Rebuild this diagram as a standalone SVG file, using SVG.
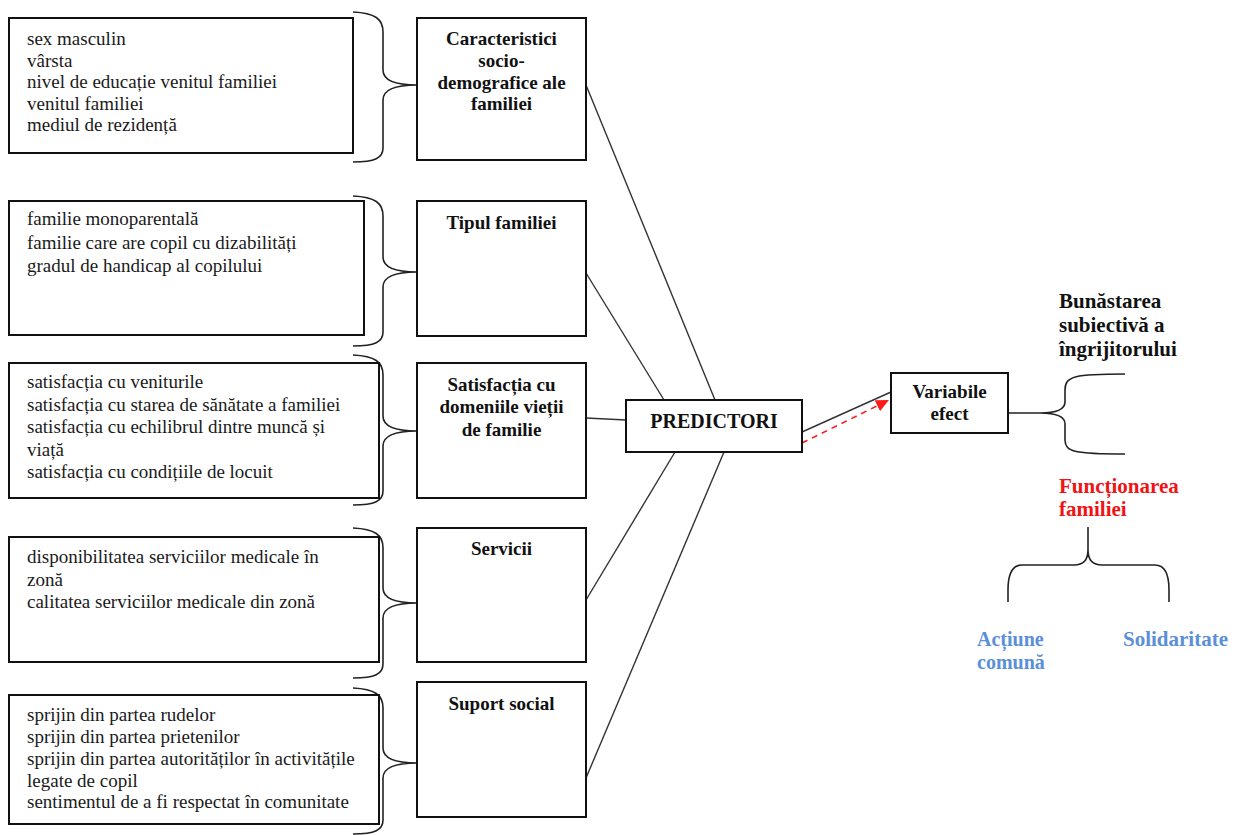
<svg xmlns="http://www.w3.org/2000/svg" width="1234" height="835" viewBox="0 0 1234 835">
<style>
.box{fill:#fff;stroke:#111;stroke-width:2}
.item{font-family:"Liberation Serif","Times New Roman",serif;font-size:19px;fill:#1a1a1a}
.title{font-family:"Liberation Serif","Times New Roman",serif;font-size:19px;font-weight:bold;fill:#111;text-anchor:middle}
.big{font-family:"Liberation Serif","Times New Roman",serif;font-size:21px;font-weight:bold}
.brace{fill:none;stroke:#222;stroke-width:1.6}
.conn{fill:none;stroke:#333;stroke-width:1.4}
</style>
<defs>
<marker id="arrRed" markerUnits="userSpaceOnUse" markerWidth="14" markerHeight="12" refX="13" refY="6" orient="auto">
<path d="M0,0 L13,6 L0,12 z" fill="#ff1a1a"/>
</marker>
</defs>
<rect width="1234" height="835" fill="#fff"/>

<g id="connectors">
<path class="conn" d="M586,85 L715,400"/>
<path class="conn" d="M586,273 L664,400"/>
<path class="conn" d="M586,418 L626,420"/>
<path class="conn" d="M586,600 L675,452"/>
<path class="conn" d="M586,778 L724,452"/>
<path class="conn" d="M802,432 L891,392"/>
<path d="M802,443 L889,400" fill="none" stroke="#ff1a1a" stroke-width="1.6" stroke-dasharray="6,5" marker-end="url(#arrRed)"/>
</g>

<g id="braces">
<path class="brace" d="M353,12 C375,13 383,19 383,32 L383,70 C383,80 393,85 417,85 C393,85 383,90 383,100 L383,148 C383,158 375,162 353,162"/>
<path class="brace" d="M353,196 C375,197 383,203 383,216 L383,257 C383,267 393,272 417,272 C393,272 383,277 383,287 L383,332 C383,342 375,346 353,346"/>
<path class="brace" d="M353,355 C375,356 383,362 383,375 L383,416 C383,426 393,431 417,431 C393,431 383,436 383,446 L383,491 C383,501 375,505 353,505"/>
<path class="brace" d="M353,528 C375,529 383,535 383,548 L383,588 C383,598 393,603 417,603 C393,603 383,608 383,618 L383,664 C383,674 375,678 353,678"/>
<path class="brace" d="M353,688 C375,689 383,695 383,708 L383,748 C383,758 393,763 417,763 C393,763 383,768 383,778 L383,820 C383,830 375,834 353,834"/>
<path class="brace" d="M1008,413 L1040,413 M1125,374 C1075,374 1065,376 1065,390 L1065,402 C1065,410 1055,413 1040,413 C1055,413 1065,416 1065,424 L1065,440 C1065,452 1075,454 1125,454"/>
<path class="brace" d="M1088,527 L1088,550 C1088,560 1084,565 1074,565 L1022,565 C1012,565 1008,575 1008,590 L1008,602 M1088,550 C1088,560 1092,565 1102,565 L1155,565 C1165,565 1169,575 1169,590 L1169,602"/>
</g>

<g id="list1">
<rect class="box" x="9" y="18" width="344" height="135"/>
<text class="item" x="27" y="45">sex masculin</text>
<text class="item" x="27" y="66.5">vârsta</text>
<text class="item" x="27" y="88">nivel de educație venitul familiei</text>
<text class="item" x="27" y="109.5">venitul familiei</text>
<text class="item" x="27" y="131">mediul de rezidență</text>
</g>
<g id="list2">
<rect class="box" x="9" y="201" width="355" height="134"/>
<text class="item" x="27" y="225">familie monoparentală</text>
<text class="item" x="27" y="248.5">familie care are copil cu dizabilități</text>
<text class="item" x="27" y="272">gradul de handicap al copilului</text>
</g>
<g id="list3">
<rect class="box" x="9" y="363" width="370" height="135"/>
<text class="item" x="27" y="388">satisfacția cu veniturile</text>
<text class="item" x="27" y="410.5">satisfacția cu starea de sănătate a familiei</text>
<text class="item" x="27" y="433">satisfacția cu echilibrul dintre muncă și</text>
<text class="item" x="27" y="455.5">viață</text>
<text class="item" x="27" y="478">satisfacția cu condițiile de locuit</text>
</g>
<g id="list4">
<rect class="box" x="9" y="537" width="370" height="125"/>
<text class="item" x="27" y="563">disponibilitatea serviciilor medicale în</text>
<text class="item" x="27" y="585.5">zonă</text>
<text class="item" x="27" y="608">calitatea serviciilor medicale din zonă</text>
</g>
<g id="list5">
<rect class="box" x="9" y="695" width="370" height="129"/>
<text class="item" x="27" y="721">sprijin din partea rudelor</text>
<text class="item" x="27" y="743">sprijin din partea prietenilor</text>
<text class="item" x="27" y="765">sprijin din partea autorităților în activitățile</text>
<text class="item" x="27" y="786.5">legate de copil</text>
<text class="item" x="27" y="808">sentimentul de a fi respectat în comunitate</text>
</g>

<g id="node-caracteristici">
<rect class="box" x="417" y="18" width="169" height="142"/>
<text class="title" x="501.5" y="45">Caracteristici</text>
<text class="title" x="501.5" y="67">socio-</text>
<text class="title" x="501.5" y="89">demografice ale</text>
<text class="title" x="501.5" y="110">familiei</text>
</g>
<g id="node-tipul">
<rect class="box" x="417" y="201" width="169" height="135"/>
<text class="title" x="501.5" y="229">Tipul familiei</text>
</g>
<g id="node-satisfactia">
<rect class="box" x="417" y="363" width="169" height="135"/>
<text class="title" x="501.5" y="391">Satisfacția cu</text>
<text class="title" x="501.5" y="413">domeniile vieții</text>
<text class="title" x="501.5" y="436">de familie</text>
</g>
<g id="node-servicii">
<rect class="box" x="417" y="528" width="169" height="134"/>
<text class="title" x="501.5" y="555">Servicii</text>
</g>
<g id="node-suport">
<rect class="box" x="417" y="682" width="169" height="135"/>
<text class="title" x="501.5" y="710">Suport social</text>
</g>
<g id="node-predictori">
<rect class="box" x="626" y="400" width="176" height="52"/>
<text class="title" x="714" y="428" style="font-size:20px">PREDICTORI</text>
</g>
<g id="node-variabile">
<rect class="box" x="891" y="373" width="117" height="60"/>
<text class="title" x="949.5" y="398">Variabile</text>
<text class="title" x="949.5" y="420">efect</text>
</g>
<g id="label-bunastarea">
<text class="big" x="1059" y="308" fill="#111">Bunăstarea</text>
<text class="big" x="1059" y="332" fill="#111">subiectivă a</text>
<text class="big" x="1059" y="356" fill="#111">îngrijitorului</text>
</g>
<g id="label-functionarea">
<text class="big" x="1059" y="493" fill="#f01414">Funcționarea</text>
<text class="big" x="1059" y="516" fill="#f01414">familiei</text>
</g>
<g id="label-actiune">
<text class="big" x="977" y="646" fill="#5b8fd8" style="font-size:20px">Acțiune</text>
<text class="big" x="977" y="669" fill="#5b8fd8" style="font-size:20px">comună</text>
</g>
<g id="label-solidaritate">
<text class="big" x="1123" y="646" fill="#5b8fd8">Solidaritate</text>
</g>
</svg>
